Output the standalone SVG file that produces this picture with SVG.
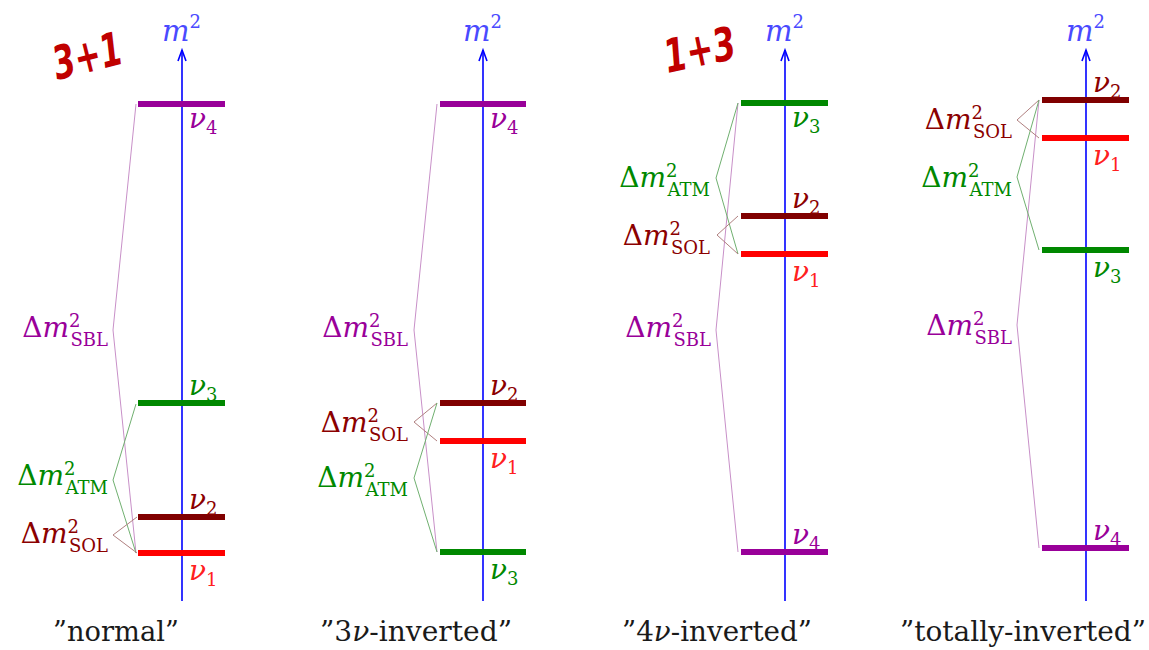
<svg xmlns="http://www.w3.org/2000/svg" width="1149" height="650" viewBox="0 0 1149 650">
<style>
.ax{stroke:#0000ff;stroke-width:1.6;fill:none}
.bar{stroke-width:6;fill:none}
.p{stroke:#990099}.g{stroke:#008800}.d{stroke:#800000}.r{stroke:#ff0000}
.br{fill:none;stroke-width:1}
.bp{stroke:#c890c8}.bg{stroke:#70b070}.bd{stroke:#b08080}
.nu{font-style:italic;font-size:28px}
.sub{font-style:normal;font-size:18px}
.dl{font-size:28px}
.sm{font-size:18px}
.tp{fill:#990099}.tg{fill:#008800}.td{fill:#8b0000}.tr{fill:#ff2020}
.ttl{font-size:27px;fill:#1a1a1a;text-anchor:middle}
.mm{font-style:italic;font-size:29px;fill:#4a4aff}
.hw{font-weight:bold;font-style:italic;font-size:46px;fill:#c00000}
</style>

<text class="hw" font-family="DejaVu Sans, sans-serif" x="50" y="72" textLength="70" lengthAdjust="spacingAndGlyphs" transform="rotate(-14 86 46)">3+1</text>
<text class="hw" font-family="DejaVu Sans, sans-serif" x="662" y="66" textLength="72" lengthAdjust="spacingAndGlyphs" transform="rotate(-12 698 42)">1+3</text>

<g font-family="DejaVu Serif, serif">
<g id="axes">
<g id="axis1"><line class="ax" x1="182" y1="50" x2="182" y2="601"/><polyline class="ax" stroke-width="1" points="178,61 182,50 186,61"/><text class="mm" x="162" y="41">m<tspan font-style="normal" font-size="18" dy="-13">2</tspan></text></g>
<g id="axis2"><line class="ax" x1="483" y1="50" x2="483" y2="601"/><polyline class="ax" stroke-width="1" points="479,61 483,50 487,61"/><text class="mm" x="463" y="41">m<tspan font-style="normal" font-size="18" dy="-13">2</tspan></text></g>
<g id="axis3"><line class="ax" x1="785" y1="50" x2="785" y2="601"/><polyline class="ax" stroke-width="1" points="781,61 785,50 789,61"/><text class="mm" x="765" y="41">m<tspan font-style="normal" font-size="18" dy="-13">2</tspan></text></g>
<g id="axis4"><line class="ax" x1="1086" y1="50" x2="1086" y2="601"/><polyline class="ax" stroke-width="1" points="1082,61 1086,50 1090,61"/><text class="mm" x="1066" y="41">m<tspan font-style="normal" font-size="18" dy="-13">2</tspan></text></g>
</g>

<g id="connectors">
<polyline class="br bp" points="136,104 113,330 136,553"/>
<polyline class="br bg" points="136,404 113,480 136,553"/>
<polyline class="br bd" points="137,517 113,535 137,553"/>
<polyline class="br bp" points="437,104 414,330 437,552"/>
<polyline class="br bd" points="437,403 414,422 437,441"/>
<polyline class="br bg" points="437,403 414,478 437,552"/>
<polyline class="br bp" points="738,103 716,330 738,552"/>
<polyline class="br bg" points="738,103 716,178 738,254"/>
<polyline class="br bd" points="738,216 717,235 738,254"/>
<polyline class="br bp" points="1039,100 1017,325 1039,548"/>
<polyline class="br bd" points="1039,100 1017,120 1039,138"/>
<polyline class="br bg" points="1039,100 1017,177 1039,250"/>
</g>

<g id="p1-nu4"><line class="bar p" x1="138" y1="104" x2="225" y2="104"/><text class="nu tp" x="189" y="128">ν<tspan class="sub" dy="6">4</tspan></text></g>
<g id="p1-nu3"><line class="bar g" x1="138" y1="403" x2="225" y2="403"/><text class="nu tg" x="189" y="395">ν<tspan class="sub" dy="6">3</tspan></text></g>
<g id="p1-nu2"><line class="bar d" x1="138" y1="517" x2="225" y2="517"/><text class="nu td" x="189" y="509">ν<tspan class="sub" dy="6">2</tspan></text></g>
<g id="p1-nu1"><line class="bar r" x1="138" y1="553" x2="225" y2="553"/><text class="nu tr" x="189" y="580">ν<tspan class="sub" dy="6">1</tspan></text></g>
<g id="p1-sbl"><text class="dl tp" x="108" y="337" text-anchor="end">Δ<tspan font-style="italic">m</tspan><tspan class="sm" dy="-10">2</tspan><tspan class="sm" dx="-10" dy="19">SBL</tspan></text></g>
<g id="p1-atm"><text class="dl tg" x="108" y="485" text-anchor="end">Δ<tspan font-style="italic">m</tspan><tspan class="sm" dy="-10">2</tspan><tspan class="sm" dx="-10" dy="19">ATM</tspan></text></g>
<g id="p1-sol"><text class="dl td" x="108" y="543" text-anchor="end">Δ<tspan font-style="italic">m</tspan><tspan class="sm" dy="-10">2</tspan><tspan class="sm" dx="-10" dy="19">SOL</tspan></text></g>
<text class="ttl" x="116" y="641" textLength="126" lengthAdjust="spacingAndGlyphs">”normal”</text>

<g id="p2-nu4"><line class="bar p" x1="440" y1="104" x2="526" y2="104"/><text class="nu tp" x="490" y="128">ν<tspan class="sub" dy="6">4</tspan></text></g>
<g id="p2-nu2"><line class="bar d" x1="440" y1="403" x2="526" y2="403"/><text class="nu td" x="490" y="395">ν<tspan class="sub" dy="6">2</tspan></text></g>
<g id="p2-nu1"><line class="bar r" x1="440" y1="441" x2="526" y2="441"/><text class="nu tr" x="490" y="468">ν<tspan class="sub" dy="6">1</tspan></text></g>
<g id="p2-nu3"><line class="bar g" x1="440" y1="552" x2="526" y2="552"/><text class="nu tg" x="490" y="579">ν<tspan class="sub" dy="6">3</tspan></text></g>
<g id="p2-sbl"><text class="dl tp" x="408" y="337" text-anchor="end">Δ<tspan font-style="italic">m</tspan><tspan class="sm" dy="-10">2</tspan><tspan class="sm" dx="-10" dy="19">SBL</tspan></text></g>
<g id="p2-sol"><text class="dl td" x="408" y="432" text-anchor="end">Δ<tspan font-style="italic">m</tspan><tspan class="sm" dy="-10">2</tspan><tspan class="sm" dx="-10" dy="19">SOL</tspan></text></g>
<g id="p2-atm"><text class="dl tg" x="408" y="487" text-anchor="end">Δ<tspan font-style="italic">m</tspan><tspan class="sm" dy="-10">2</tspan><tspan class="sm" dx="-10" dy="19">ATM</tspan></text></g>
<text class="ttl" x="416" y="641" textLength="192" lengthAdjust="spacingAndGlyphs">”3<tspan font-style="italic">ν</tspan>-inverted”</text>

<g id="p3-nu3"><line class="bar g" x1="741" y1="103" x2="828" y2="103"/><text class="nu tg" x="792" y="127">ν<tspan class="sub" dy="6">3</tspan></text></g>
<g id="p3-nu2"><line class="bar d" x1="741" y1="216" x2="828" y2="216"/><text class="nu td" x="792" y="208">ν<tspan class="sub" dy="6">2</tspan></text></g>
<g id="p3-nu1"><line class="bar r" x1="741" y1="254" x2="828" y2="254"/><text class="nu tr" x="792" y="281">ν<tspan class="sub" dy="6">1</tspan></text></g>
<g id="p3-nu4"><line class="bar p" x1="741" y1="552" x2="828" y2="552"/><text class="nu tp" x="792" y="544">ν<tspan class="sub" dy="6">4</tspan></text></g>
<g id="p3-atm"><text class="dl tg" x="710" y="187" text-anchor="end">Δ<tspan font-style="italic">m</tspan><tspan class="sm" dy="-10">2</tspan><tspan class="sm" dx="-10" dy="19">ATM</tspan></text></g>
<g id="p3-sol"><text class="dl td" x="710" y="245" text-anchor="end">Δ<tspan font-style="italic">m</tspan><tspan class="sm" dy="-10">2</tspan><tspan class="sm" dx="-10" dy="19">SOL</tspan></text></g>
<g id="p3-sbl"><text class="dl tp" x="711" y="337" text-anchor="end">Δ<tspan font-style="italic">m</tspan><tspan class="sm" dy="-10">2</tspan><tspan class="sm" dx="-10" dy="19">SBL</tspan></text></g>
<text class="ttl" x="717" y="641" textLength="190" lengthAdjust="spacingAndGlyphs">”4<tspan font-style="italic">ν</tspan>-inverted”</text>

<g id="p4-nu2"><line class="bar d" x1="1042" y1="100" x2="1129" y2="100"/><text class="nu td" x="1093" y="92">ν<tspan class="sub" dy="6">2</tspan></text></g>
<g id="p4-nu1"><line class="bar r" x1="1042" y1="138" x2="1129" y2="138"/><text class="nu tr" x="1093" y="165">ν<tspan class="sub" dy="6">1</tspan></text></g>
<g id="p4-nu3"><line class="bar g" x1="1042" y1="250" x2="1129" y2="250"/><text class="nu tg" x="1093" y="277">ν<tspan class="sub" dy="6">3</tspan></text></g>
<g id="p4-nu4"><line class="bar p" x1="1042" y1="548" x2="1129" y2="548"/><text class="nu tp" x="1093" y="540">ν<tspan class="sub" dy="6">4</tspan></text></g>
<g id="p4-sol"><text class="dl td" x="1012" y="129" text-anchor="end">Δ<tspan font-style="italic">m</tspan><tspan class="sm" dy="-10">2</tspan><tspan class="sm" dx="-10" dy="19">SOL</tspan></text></g>
<g id="p4-atm"><text class="dl tg" x="1012" y="187" text-anchor="end">Δ<tspan font-style="italic">m</tspan><tspan class="sm" dy="-10">2</tspan><tspan class="sm" dx="-10" dy="19">ATM</tspan></text></g>
<g id="p4-sbl"><text class="dl tp" x="1012" y="335" text-anchor="end">Δ<tspan font-style="italic">m</tspan><tspan class="sm" dy="-10">2</tspan><tspan class="sm" dx="-10" dy="19">SBL</tspan></text></g>
<text class="ttl" x="1023" y="641" textLength="246" lengthAdjust="spacingAndGlyphs">”totally-inverted”</text>
</g>
</svg>
